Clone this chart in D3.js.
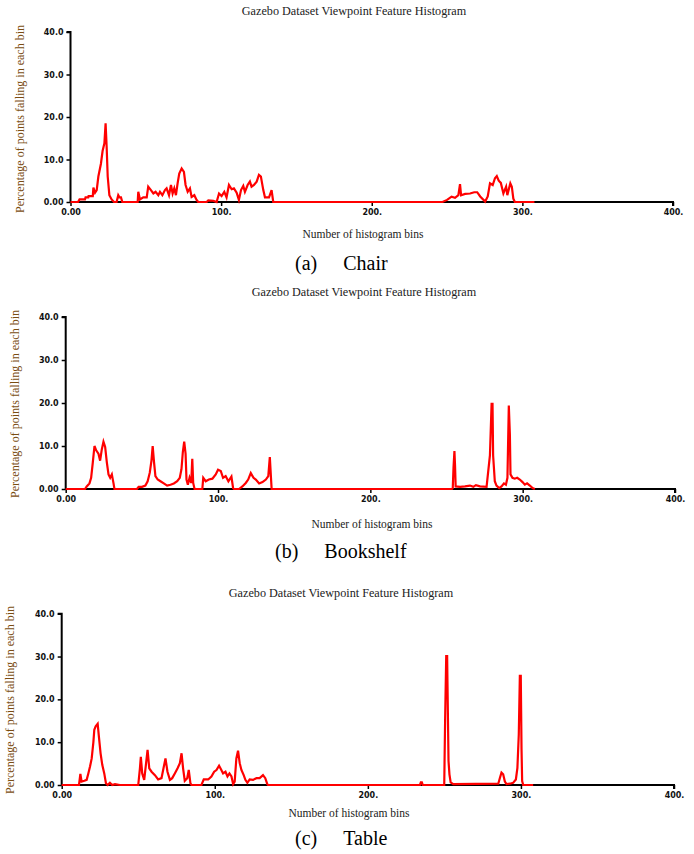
<!DOCTYPE html>
<html>
<head>
<meta charset="utf-8">
<script src="https://cdn.jsdelivr.net/npm/d3@7"></script>
<style>
  body { margin: 0; background: #fff; }
</style>
</head>
<body>
<div id="chart"></div>
<script>
// =========================
// data: [bin, percentage]
// =========================
const chairHist = [
  [0,0],[5,0],[6,0.6],[9.6,0.6],[10,1.1],[11.8,1.1],[12,1.4],[14.8,1.4],[15.2,3.4],[16.3,2.2],
  [17.4,2.8],[18.5,6],[20.2,9],[21.3,12],[22.5,13.8],[23.3,18.5],[24,13],[24.7,6],[25.8,1.6],
  [27.3,0.6],[28.9,0],[30.6,0],[31.7,1.6],[32.5,1.1],[33.5,1.1],[34.4,0],[44.6,0],[45,2.4],
  [46.1,0.6],[48.3,1.1],[50.6,1.1],[51.6,3.6],[53.4,2.8],[55,2],[56.5,2.4],[58.3,1.6],[59.4,2.4],
  [61,1.6],[62.7,2.8],[63.8,3.2],[65.4,1.6],[66.7,4],[67.8,2],[68.9,3.2],[70,1.6],[71.1,4.4],
  [72.2,6.7],[73.8,7.9],[75.3,7.1],[76.4,4],[77.8,2.4],[79.3,3.2],[80.4,1.2],[82.2,1.6],[83.7,0.5],
  [84.8,0],[90.4,0],[91.5,0.4],[94.8,0.3],[97,0],[98.6,2],[100.3,1.4],[102.1,2.4],[103.6,1.1],
  [105.2,4],[107,3],[108.5,3.2],[110.3,2.2],[111.8,0.5],[113.2,2.8],[114.7,3.8],[115.8,2.4],
  [117.6,4],[119.1,4.8],[120.2,3.6],[121.8,4],[123.6,4.8],[125.1,6.4],[126.4,6],[128,2.8],
  [129.1,1.1],[131.8,1.1],[133.5,2.8],[134.6,0],[247,0],[250,0.5],[253,1.25],[255.3,1],
  [257.5,1.6],[258.6,4.2],[259.3,1.6],[262,1.9],[265.3,2],[268,2.3],[270,2.3],[272,1.3],
  [275.3,0.1],[277,1.3],[278.5,4.4],[280.3,4],[281.8,5.6],[283,6.1],[284.3,5],[285.7,4.5],
  [287.4,2],[289.2,3.6],[290,1.6],[292,4.4],[293,3.6],[294,0.8],[295,0],[308,0]
];

const bookshelfHist = [
  [0,0],[12.7,0],[13.8,0.6],[15.6,1.3],[16.7,2.6],[17.8,6.2],[18.9,10],[20,9],[21.5,8.2],
  [22.6,6.6],[23.7,9.2],[24.8,11],[25.9,9.8],[27,6.2],[28.1,3.4],[29.2,2.6],[30.3,3.4],[31.4,1.3],
  [32,0],[46.8,0],[47.9,0.5],[50.1,0.5],[52.3,0.8],[53.8,1.8],[55.2,3.8],[56.3,6.6],[57.1,10],
  [58,6.2],[58.9,3],[60.4,2.2],[62.2,1.8],[64.4,1.3],[66.6,0.8],[68.8,1],[71,1.3],[73.2,1.8],
  [74.9,2.6],[76,4.6],[76.9,8.6],[77.8,11],[78.7,8.2],[79.3,2.2],[80.2,1],[81.3,2.6],[82.4,1.4],
  [83.1,7],[83.7,1.4],[84.6,0],[89.7,0],[90.3,2.6],[91.9,1.8],[94,2.2],[96.3,2.4],[98.5,3.4],
  [100,4.5],[101.8,4.2],[103.3,2.6],[105,3],[106.8,1.8],[108.8,2.9],[109.9,0.2],[110.5,0],
  [113.8,0],[116,0.6],[118.2,1.4],[119.8,2.2],[121.5,3.7],[123.3,2.6],[124.8,2.2],[127,1.3],
  [129.2,1.6],[131.4,2.2],[133,3],[134,7.4],[134.7,3],[135.2,0],[253.6,0],[254.1,0.2],[254.6,5],
  [255.2,8.8],[255.6,5.4],[256,0.6],[258.9,0.5],[262.1,0.6],[265.4,0.8],[267.6,0.5],[269.3,0.9],
  [272,0.6],[276.3,0.5],[278.5,7.8],[279.6,19.8],[280.2,19.8],[280.6,7.8],[281.7,1.8],[282.8,0.8],
  [284.6,0.2],[286.1,0.6],[287.7,1.3],[289,1],[290,2.6],[290.9,19.4],[291.6,12.6],[292,3.4],
  [293.3,2.6],[294.8,2.4],[296.4,2.6],[298.1,2.2],[299.9,1.6],[301.4,1],[302.9,1.3],[304.7,0.8],
  [306.5,0.2],[308,0]
];

const tableHist = [
  [0,0],[11.3,0],[12.2,2.6],[13,0.8],[14.8,1],[16.3,1.2],[17.4,2.7],[18.5,4.3],[19.6,6.2],
  [20.7,10],[21.3,12.9],[22.2,13.7],[23.5,14.3],[24.3,11.3],[25.4,7.4],[26.5,4.7],[27.8,2.7],
  [28.9,0.4],[30,0],[31.5,0.5],[33,0],[34.8,0.2],[38,0],[50,0],[51.1,3.9],[51.7,6.6],[52.6,2.7],
  [53.9,1.2],[55,4.7],[56.1,8.2],[57.2,3.9],[58.7,3.1],[60.9,2.3],[63,1.3],[65.2,1.6],[66.5,3.9],
  [67.8,6.2],[69.1,3.1],[70.7,1.2],[72.2,1.6],[73.9,2.7],[75.7,3.9],[77.2,5.1],[78.3,7.4],
  [79.3,3.9],[80.4,1],[82,1.6],[83,3.5],[84.1,0.4],[84.8,0],[91.3,0],[92.8,1.3],[95.7,1.3],
  [97.8,2],[99.6,3.1],[101.1,3.5],[102.8,4.5],[104.3,3.5],[105.4,2.7],[107,3.1],[108.3,2],
  [109.6,2.7],[110.9,2],[112,0.2],[113,0.8],[114.1,6.2],[115.2,8],[116.3,5.1],[117.4,3.5],
  [118.9,2.3],[120,1.2],[121.3,0.5],[122.8,1.3],[125,1.2],[127.2,1.6],[129.3,1.6],[131.5,2.3],
  [133,1.6],[134.3,0.2],[134.8,0],[234,0],[234.6,0.6],[235.3,0.6],[235.9,0],[249.9,0],
  [250.5,15.7],[251.2,30.1],[251.8,30.1],[252,24.3],[252.7,5.6],[253.3,2.5],[254.1,0.6],
  [255.8,0.2],[285.2,0.3],[286.3,1.7],[287.3,2.9],[288.4,2.5],[289.5,0.8],[290.6,0.2],[292.8,0.3],
  [294.9,0.5],[296.7,1.3],[297.7,4],[298.6,11.8],[299.3,25.5],[299.9,25.5],[300.4,8.3],
  [300.8,0.9],[301.5,0],[308,0]
];

const yTicks = [0, 10, 20, 30, 40];
const xTicks = [0, 100, 200, 300, 400];

const chartTitle = "Gazebo Dataset Viewpoint Feature Histogram";
const xTitle = "Number of histogram bins";
const yTitle = "Percentage of points falling in each bin";

// =========================
// layout of the three panels
// =========================
const panels = [
  { data: chairHist, tag: "(a)", name: "Chair",
    x0: 70.5, x1: 673, y0: 202, y1: 32,
    titleX: 354, titleY: 15, xlabX: 363, xlabY: 238, ylabX: 20, ylabY: 119,
    capX: 295, capY: 270 },
  { data: bookshelfHist, tag: "(b)", name: "Bookshelf",
    x0: 65.7, x1: 675, y0: 489, y1: 317,
    titleX: 364, titleY: 296, xlabX: 372, xlabY: 528, ylabX: 15, ylabY: 404,
    capX: 275, capY: 558 },
  { data: tableHist, tag: "(c)", name: "Table",
    x0: 61.7, x1: 674, y0: 785, y1: 613.7,
    titleX: 341, titleY: 597, xlabX: 349, xlabY: 817, ylabX: 10, ylabY: 700,
    capX: 295, capY: 845 }
];

const svg = d3.select("#chart")
  .append("svg")
  .attr("width", 694)
  .attr("height", 854)
  .style("background", "#fff");

const serif = "'Liberation Serif', 'Times New Roman', serif";
const tickFont = "'DejaVu Sans', Verdana, sans-serif";

panels.forEach(p => {
  const g = svg.append("g");

  const x = d3.scaleLinear().domain([0, 400]).range([p.x0, p.x1]);
  const y = d3.scaleLinear().domain([0, 40]).range([p.y0, p.y1]);

  // axes
  const yAxis = d3.axisLeft(y)
    .tickValues(yTicks)
    .tickSize(4)
    .tickPadding(3)
    .tickFormat(d => d === 0 ? "0.00" : d3.format(".1f")(d));

  const xAxis = d3.axisBottom(x)
    .tickValues(xTicks)
    .tickSize(4)
    .tickPadding(3)
    .tickFormat(d => d === 0 ? "0.00" : d + ".");

  const ya = g.append("g")
    .attr("transform", `translate(${p.x0},0)`)
    .call(yAxis);
  const xa = g.append("g")
    .attr("transform", `translate(0,${p.y0})`)
    .call(xAxis);

  [ya, xa].forEach(a => {
    a.select(".domain").attr("stroke", "#000").attr("stroke-width", 2);
    a.selectAll(".tick line").attr("stroke", "#000").attr("stroke-width", 1.5);
    a.selectAll(".tick text")
      .attr("fill", "#111")
      .style("font-family", tickFont)
      .style("font-weight", "bold")
      .style("font-size", "8px");
  });
  // outer tick stubs at the axis ends
  ya.select(".domain").attr("d", `M-4,${y(40)}H0V${y(0)}`);
  xa.select(".domain").attr("d", `M${x(0)},0H${x(400)}V4`);

  // histogram line
  const line = d3.line()
    .x(d => x(d[0]))
    .y(d => y(d[1]));

  g.append("path")
    .datum(p.data)
    .attr("d", line)
    .attr("fill", "none")
    .attr("stroke", "#ff0000")
    .attr("stroke-width", 2.2)
    .attr("stroke-linejoin", "miter");

  // titles
  g.append("text")
    .attr("x", p.titleX)
    .attr("y", p.titleY)
    .attr("text-anchor", "middle")
    .style("font-family", serif)
    .style("font-size", "12.2px")
    .attr("fill", "#222")
    .text(chartTitle);

  g.append("text")
    .attr("x", p.xlabX)
    .attr("y", p.xlabY)
    .attr("text-anchor", "middle")
    .style("font-family", serif)
    .style("font-size", "11.5px")
    .attr("fill", "#222")
    .text(xTitle);

  g.append("text")
    .attr("transform", `translate(${p.ylabX},${p.ylabY}) rotate(-90)`)
    .attr("text-anchor", "middle")
    .attr("dy", "0.35em")
    .style("font-family", serif)
    .style("font-size", "12px")
    .attr("fill", "#7a4d12")
    .text(yTitle);

  // caption below the panel
  const cap = g.append("text")
    .attr("x", p.capX)
    .attr("y", p.capY)
    .style("font-family", serif)
    .style("font-size", "20px")
    .attr("fill", "#000");
  cap.append("tspan").text(p.tag);
  cap.append("tspan").attr("dx", 26).text(p.name);
});
</script>
</body>
</html>
